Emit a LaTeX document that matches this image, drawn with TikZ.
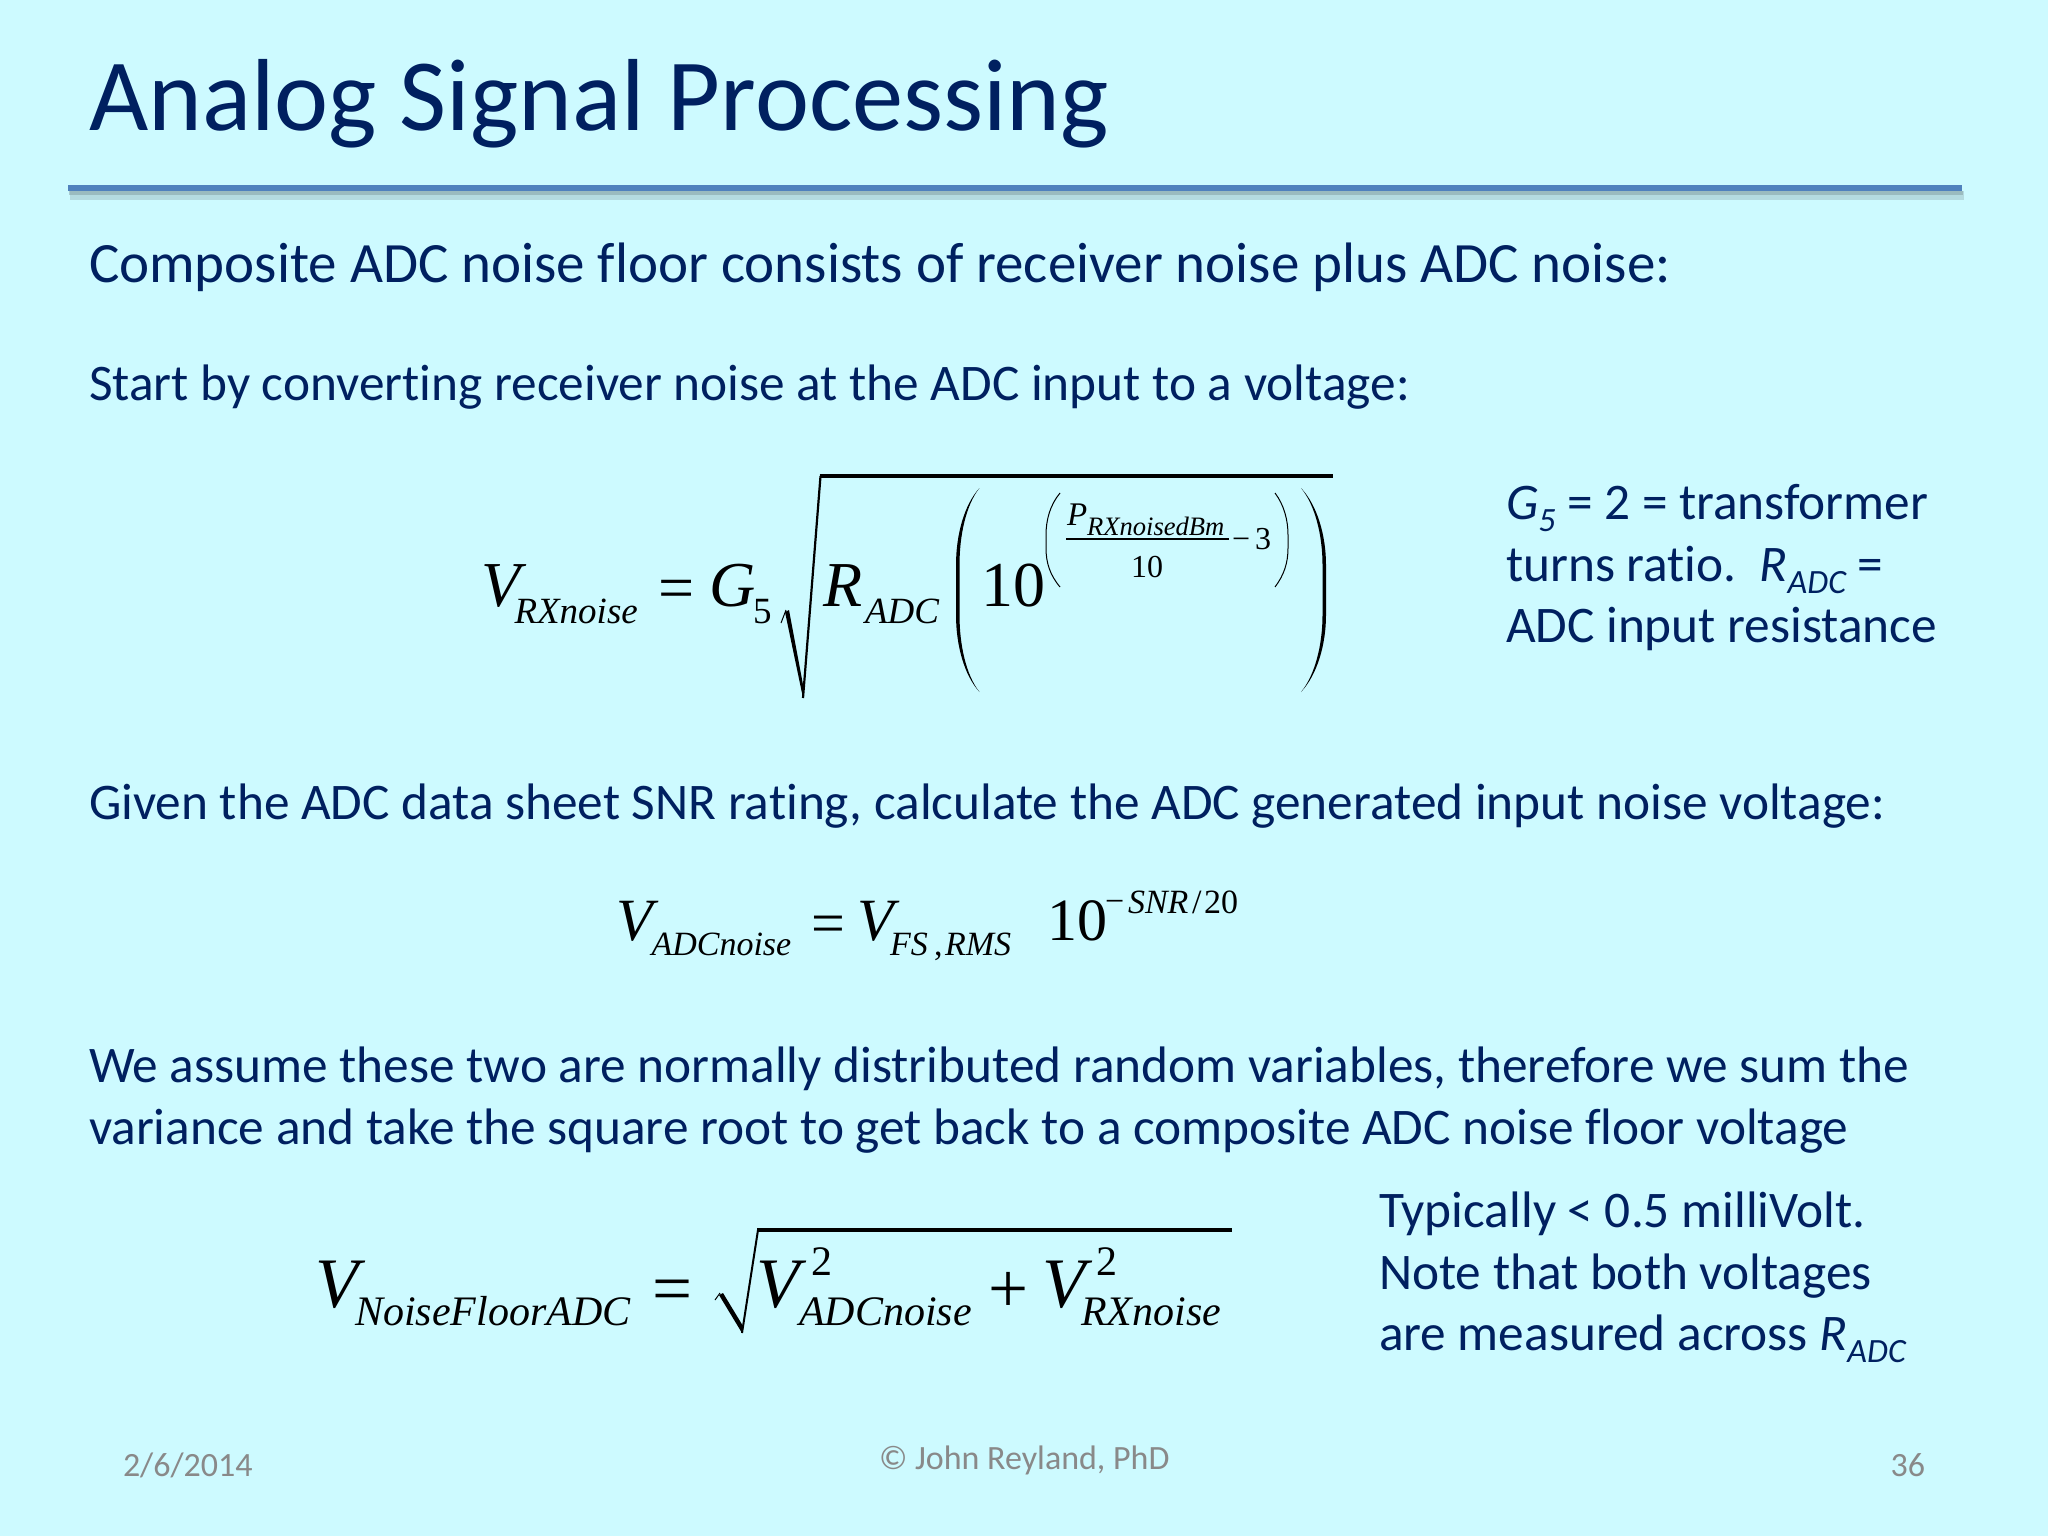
\documentclass[tikz,border=0pt]{standalone}
\usepackage{fontspec}
\setmainfont[Ligatures=NoCommon]{Carlito}
\newfontfamily\serifmath{Liberation Serif}
\definecolor{slidebg}{HTML}{CDFAFF}
\definecolor{navy}{HTML}{002060}
\definecolor{rulecol}{HTML}{4F81BD}
\definecolor{footgray}{HTML}{898989}
\newcommand{\fsz}[1]{\fontsize{#1pt}{#1pt}\selectfont}
\newcommand{\sbs}[1]{\raisebox{-6pt}{\fsz{17}\itshape #1}}
\tikzset{
  x=0.5pt,y=-0.5pt,
  txt/.style={anchor=base west,inner sep=0pt,outer sep=0pt,text=navy,font=\fsz{25.66}},
  foot/.style={anchor=base west,inner sep=0pt,outer sep=0pt,text=footgray,font=\fsz{17}},
  eqi/.style={anchor=base west,inner sep=0pt,outer sep=0pt,text=black,font=\serifmath\itshape\fsz{#1}},
  eqr/.style={anchor=base west,inner sep=0pt,outer sep=0pt,text=black,font=\serifmath\fsz{#1}},
  bar/.style={black,line width=2.2pt},
  smallp/.style={black,line width=0.5pt},
}
\begin{document}
\begin{tikzpicture}
\useasboundingbox (0,0) rectangle (2048,1536);
\fill[slidebg] (0,0) rectangle (2048,1536);
% title and rule
\node[txt,font=\fsz{51.2}] (title) at (89,131) {Analog Signal Processing};
\fill[black!40!slidebg,opacity=.3] (70,191) rectangle (1964,200);
\fill[black!40!slidebg,opacity=.45] (69,191) rectangle (1963,195);
\fill[rulecol] (68,184.5) rectangle (1962,191);
% text lines
\node[txt,font=\fsz{28.5}] (l1) at (89,282) {Composite ADC noise floor consists of receiver noise plus ADC noise:};
\node[txt] (l2) at (89,400) {Start by converting receiver noise at the ADC input to a voltage:};
\node[txt] (l3) at (89,819) {Given the ADC data sheet SNR rating, calculate the ADC generated input noise voltage:};
\node[txt] (l4) at (89,1082) {We assume these two are normally distributed random variables, therefore we sum the};
\node[txt] (l5) at (89,1144) {variance and take the square root to get back to a composite ADC noise floor voltage};
% side note 1
\node[txt] (a1) at (1506,519) {\itshape G\sbs{5}\upshape{} = 2 = transformer};
\node[txt] (a2) at (1506,581) {turns ratio.\ \ \itshape R\sbs{ADC}\upshape{} =};
\node[txt] (a3) at (1506,642) {ADC input resistance};
% side note 2
\node[txt] (b1) at (1379,1227) {Typically {\fontspec{Carlito}<} 0.5 milliVolt.};
\node[txt] (b2) at (1379,1289) {Note that both voltages};
\node[txt] (b3) at (1379,1350) {are measured across \itshape R\sbs{ADC}};
% footer
\node[foot] (f1) at (123,1476) {2/6/2014};
\node[foot] (f2) at (879,1469) {© John Reyland, PhD};
\node[foot,anchor=base east] (f3) at (1925,1476) {36};
% equation 1
\node[eqi=32] (e1v) at (481,606) {V};
\node[eqi=18.5] (e1vs) at (514.5,623) {RXnoise};
\node[eqr=32] (e1eq) at (658,609) {=};
\node[eqi=32] (e1g) at (709,606) {G};
\node[eqr=18.5] (e1gs) at (753,623) {5};
\draw[black,line width=.5pt] (781,623) -- (786,610);
\fill[black] (785,612) -- (789,610) -- (804,690) -- (803,698) -- cycle;
\draw[black,line width=1.1pt] (803,698) -- (820.5,476);
\draw[bar] (819.5,476) -- (1332.5,476);
\node[eqi=32] (e1r) at (823,606) {R};
\node[eqi=18.5] (e1rs) at (865,623) {ADC};
\fill[black] (979.5,488) .. controls (964,505) and (956,535) .. (956,565) -- (956,615) .. controls (956,645) and (964,675) .. (979.5,692)
  .. controls (966,675) and (959.5,645) .. (959.5,615) -- (959.5,565) .. controls (959.5,535) and (966,505) .. (979.5,488) -- cycle;
\fill[black] (1301,488) .. controls (1317,505) and (1326,535) .. (1326,565) -- (1326,615) .. controls (1326,645) and (1317,675) .. (1301,692)
  .. controls (1315,675) and (1322.5,645) .. (1322.5,615) -- (1322.5,565) .. controls (1322.5,535) and (1315,505) .. (1301,488) -- cycle;
\node[eqr=32] (e1t) at (981,606) {10};
\draw[smallp] (1060,493) .. controls (1050,505) and (1046,520) .. (1046,535) -- (1046,548) .. controls (1046,563) and (1050,575) .. (1060,587);
\draw[smallp] (1275,493) .. controls (1284,505) and (1288,520) .. (1288,535) -- (1288,548) .. controls (1288,563) and (1284,575) .. (1275,587);
\node[eqi=16.5] (e1p) at (1067,525) {P};
\node[eqi=13.3] (e1ps) at (1087,535) {RXnoisedBm};
\draw[black,line width=.6pt] (1066,539) -- (1229,539);
\node[eqr=16] (e1m) at (1232,549) {−};
\node[eqr=16] (e1n) at (1255,549) {3};
\node[eqr=16] (e1d) at (1131,577) {10};
% equation 2
\node[eqi=30] (e2v) at (616,940) {V};
\node[eqi=17] (e2vs) at (651.5,955) {ADCnoise};
\node[eqr=30] (e2eq) at (811,943) {=};
\node[eqi=30] (e2w) at (857,940) {V};
\node[eqi=17] (e2ws) at (890,955) {FS};
\node[eqr=17] (e2c) at (934,955) {,};
\node[eqi=17] (e2wr) at (945,955) {RMS};
\node[eqr=30] (e2t) at (1047,940) {10};
\node[eqr=17] (e2m) at (1105,912) {−};
\node[eqi=17] (e2s) at (1128,913) {SNR};
\node[eqr=17] (e2sl) at (1192,913) {/};
\node[eqr=17] (e2k) at (1204,913) {20};
% equation 3
\node[eqi=35.5] (e3v) at (315,1307) {V};
\node[eqi=21] (e3vs) at (355,1325) {NoiseFloorADC};
\node[eqr=35.5] (e3eq) at (652,1312) {=};
\draw[black,line width=.5pt] (715,1300) -- (720,1293);
\fill[black] (719,1295) -- (723,1293) -- (743,1326) -- (742,1333) -- cycle;
\draw[black,line width=1pt] (742,1333) -- (758,1230);
\draw[bar] (757,1230) -- (1232,1230);
\node[eqi=35.5] (e3a) at (756,1307) {V};
\node[eqr=21] (e3a2) at (811,1275) {2};
\node[eqi=21] (e3as) at (799,1325) {ADCnoise};
\node[eqr=35.5] (e3p) at (988,1312) {+};
\node[eqi=35.5] (e3b) at (1042,1307) {V};
\node[eqr=21] (e3b2) at (1096.5,1275) {2};
\node[eqi=21] (e3bs) at (1081,1325) {RXnoise};
\end{tikzpicture}
\end{document}
